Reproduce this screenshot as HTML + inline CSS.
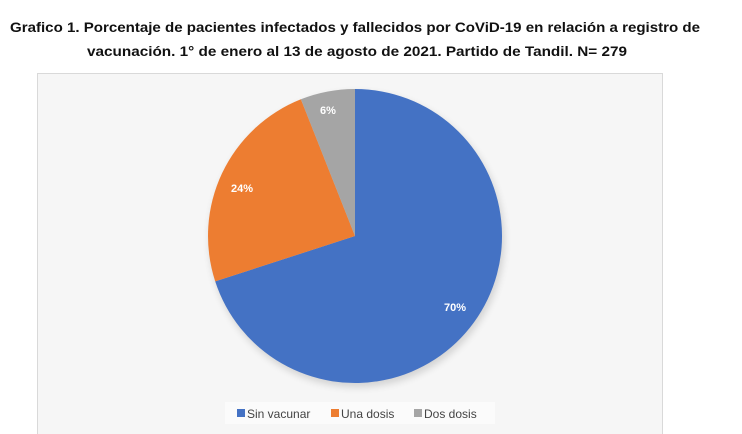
<!DOCTYPE html>
<html><head><meta charset="utf-8"><style>
html,body{margin:0;padding:0;background:#fff;}
svg{display:block;}
</style></head><body>
<svg width="742" height="434" xmlns="http://www.w3.org/2000/svg" font-family="Liberation Sans, sans-serif">
<defs>
<filter id="sh" x="-20%" y="-20%" width="140%" height="140%"><feGaussianBlur stdDeviation="4"/></filter>
</defs>
<rect width="742" height="434" fill="#fff"/>
<text x="10" y="32" font-size="14" font-weight="bold" fill="#111" textLength="690" lengthAdjust="spacingAndGlyphs">Grafico 1. Porcentaje de pacientes infectados y fallecidos por CoViD-19 en relación a registro de</text>
<text x="87" y="56" font-size="14" font-weight="bold" fill="#111" textLength="540" lengthAdjust="spacingAndGlyphs">vacunación. 1° de enero al 13 de agosto de 2021. Partido de Tandil. N= 279</text>
<rect x="37.5" y="73.5" width="625" height="370" fill="#f6f6f6" stroke="#d9d9d9"/>
<circle cx="357" cy="240" r="147" fill="#000" opacity="0.15" filter="url(#sh)"/>
<path d="M355,236 L355,89 A147,147 0 1,1 215.2,281.4 Z" fill="#4472c4"/>
<path d="M355,236 L215.2,281.4 A147,147 0 0,1 300.9,99.3 Z" fill="#ed7d31"/>
<path d="M355,236 L300.9,99.3 A147,147 0 0,1 355,89 Z" fill="#a5a5a5"/>
<g fill="#fff" font-size="11" font-weight="bold" text-anchor="middle">
<text x="455" y="311">70%</text>
<text x="242" y="192">24%</text>
<text x="328" y="114">6%</text>
</g>
<rect x="225" y="402" width="270" height="22" fill="#fbfbfb"/>
<rect x="237" y="409" width="8" height="8" fill="#4472c4"/>
<text x="247" y="418" font-size="12" fill="#444">Sin vacunar</text>
<rect x="331" y="409" width="8" height="8" fill="#ed7d31"/>
<text x="341" y="418" font-size="12" fill="#444">Una dosis</text>
<rect x="414" y="409" width="8" height="8" fill="#a5a5a5"/>
<text x="424" y="418" font-size="12" fill="#444">Dos dosis</text>
</svg>
</body></html>
